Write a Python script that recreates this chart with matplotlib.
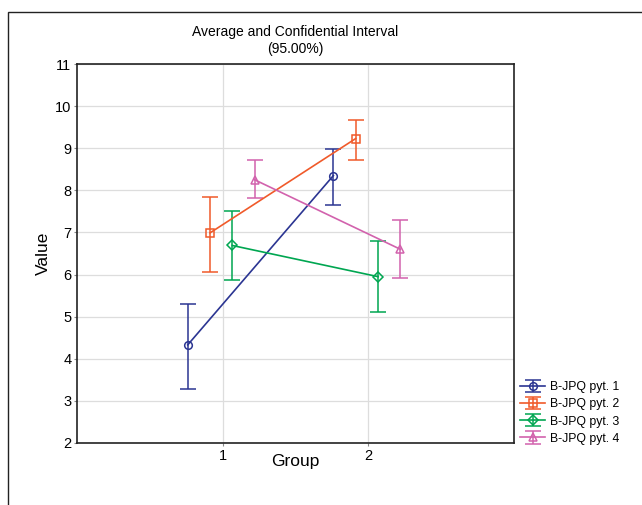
import numpy as np
import matplotlib
matplotlib.use("Agg")
import matplotlib.pyplot as plt
from matplotlib.patches import Rectangle

plt.rcParams['font.family'] = ['Liberation Sans', 'DejaVu Sans']

groups = [1, 2]
series = ["B-JPQ pyt. 1", "B-JPQ pyt. 2", "B-JPQ pyt. 3", "B-JPQ pyt. 4"]
means = [
    [4.33, 8.35],
    [6.99, 9.23],
    [6.69, 5.95],
    [8.25, 6.60],
]
upper = [
    [5.30, 8.98],
    [7.83, 9.68],
    [7.52, 6.80],
    [8.71, 7.30],
]
lower = [
    [3.28, 7.65],
    [6.06, 8.73],
    [5.86, 5.12],
    [7.82, 5.91],
]

colors = ["#2b3592", "#f05a2a", "#00a651", "#d262ad"]
markers = ["o", "s", "D", "^"]
offsets = np.linspace(-0.24, 0.22, 4)

fig = plt.figure(figsize=(6.42, 5.05), dpi=100)
ax = fig.add_axes([77/642, 1 - 443/505, (514-77)/642, (443-64)/505])

# outer frame
fig.patches.append(Rectangle((8/642, -0.1), 1.2, 1 - 12/505 + 0.1,
                             transform=fig.transFigure, fill=False,
                             edgecolor="#222222", linewidth=1.0))

for i, name in enumerate(series):
    x = np.array(groups) + offsets[i]
    m = np.array(means[i])
    yerr = [m - np.array(lower[i]), np.array(upper[i]) - m]
    ax.errorbar(x, m, yerr=yerr, color=colors[i], marker=markers[i],
                markersize=5.5 if markers[i] != "D" else 5,
                markerfacecolor="none", markeredgewidth=1.1,
                linewidth=1.2, elinewidth=1.1, capsize=5.5, capthick=1.1,
                label=name)

ax.set_xlim(0, 3)
ax.set_ylim(2, 11)
ax.set_xticks(groups)
ax.set_yticks(range(2, 12))
ax.grid(True, color="#dddddd", linewidth=0.9)
ax.set_axisbelow(True)
for s in ax.spines.values():
    s.set_linewidth(1.2)
    s.set_color("#222222")
ax.tick_params(labelsize=10.5, length=2, width=0.8, pad=2, color="#888888")
ax.set_xlabel("Group", fontsize=12.5, labelpad=-6)
ax.set_ylabel("Value", fontsize=12.5, labelpad=3)
ax.set_title("Average and Confidential Interval\n(95.00%)", fontsize=10,
             linespacing=1.25, pad=8)

ax.legend(loc="lower left", bbox_to_anchor=(0.995, -0.027), frameon=False,
          fontsize=8.8, handlelength=2.0, handletextpad=0.4,
          labelspacing=0.42, borderaxespad=0.3)

plt.savefig("out.png", dpi=100)
